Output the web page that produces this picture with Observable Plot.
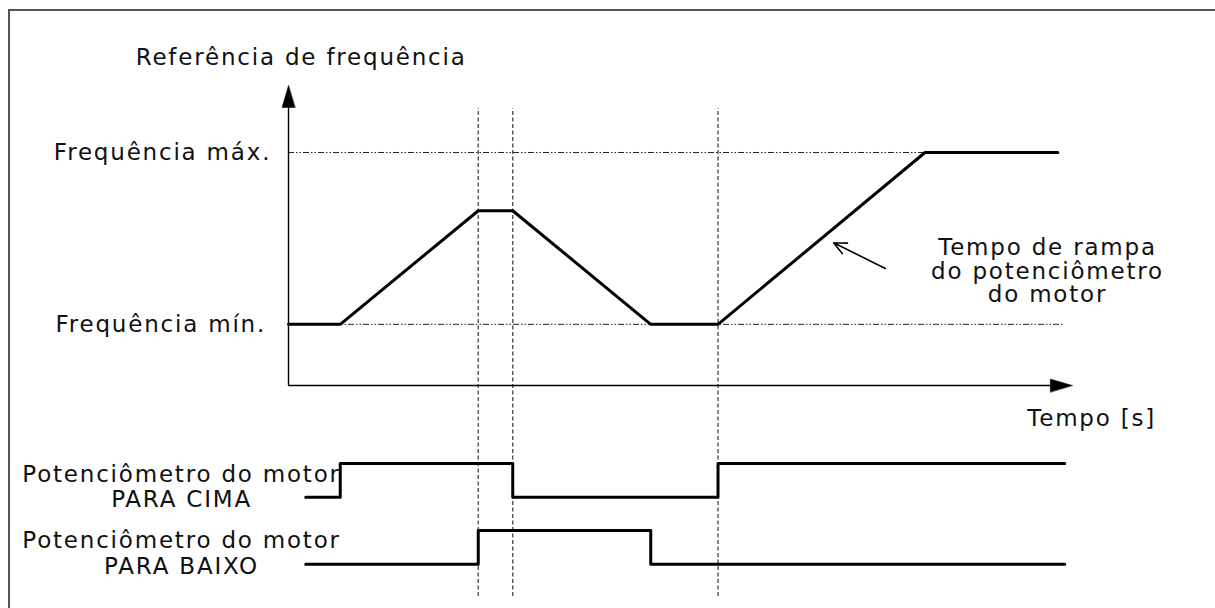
<!DOCTYPE html>
<html>
<head>
<meta charset="utf-8">
<script src="https://cdn.jsdelivr.net/npm/d3@7"></script>
<script src="https://cdn.jsdelivr.net/npm/@observablehq/plot@0.6"></script>
<style>
  html, body { margin: 0; padding: 0; background: #fff; }
  #wrap { position: relative; width: 1215px; height: 608px; overflow: hidden; }
  #frame { position: absolute; left: 8px; top: 9px; width: 1300px; height: 700px;
           border-left: 2px solid #555; border-top: 2px solid #555; box-sizing: border-box; }
  #chart { position: absolute; left: 0; top: 0; }
  svg text { font-family: "DejaVu Sans", Verdana, sans-serif; letter-spacing: 1.8px; }
</style>
</head>
<body>
<div id="wrap"><div id="frame"></div><div id="chart"></div></div>
<script>
// ---- data (time in arbitrary units, frequency in arbitrary units) ----
const freqTime  = [0, 1.5, 5.5, 6.5, 10.5, 12.45, 18.45, 22.3];
const freqValue = [1.05, 1.05, 3, 3, 1.05, 1.05, 4, 4];
const fMin = 1.05, fMax = 4;

// digital inputs (step-after)
const upTime    = [0.5, 1.5, 6.5, 12.45, 22.5];
const upLevel   = [0, 1, 0, 1, 1];
const downTime  = [0.5, 5.5, 10.5, 22.5];
const downLevel = [0, 1, 0, 0];

// event markers (dashed vertical guides)
const eventTimes = [5.5, 6.5, 12.45];

// texts
const yTitle   = "Referência de frequência";
const xTitle   = "Tempo [s]";
const maxLabel = "Frequência máx.";
const minLabel = "Frequência mín.";
const rampLabel = ["Tempo de rampa", "do potenciômetro", "do motor"];
const upLabel   = ["Potenciômetro do motor", "PARA CIMA"];
const downLabel = ["Potenciômetro do motor", "PARA BAIXO"];

// ---- layout helpers (lanes for digital signals, in y-units) ----
const laneUp   = {base: -1.92, high: 0.58, label: -1.742};
const laneDown = {base: -3.07, high: 0.58, label: -2.867};
const xAxisEnd = 22.72, yAxisEnd = 5.15;
const guideTop = 4.755, guideBottom = -3.62;

const freqData = freqTime.map((t, i) => ({t, f: freqValue[i]}));
const upData   = upTime.map((t, i) => ({t, f: laneUp.base + upLevel[i] * laneUp.high}));
const downData = downTime.map((t, i) => ({t, f: laneDown.base + downLevel[i] * laneDown.high}));

const triangle = {
  draw(ctx, l, r) {
    ctx.moveTo(0, -l);
    ctx.lineTo(-r, 0);
    ctx.lineTo(r, 0);
    ctx.closePath();
  }
};

const FS = 23;
const txt = {fontSize: FS, fill: "#111", stroke: "none", fontFamily: "DejaVu Sans"};

const plot = Plot.plot({
  width: 1215, height: 608,
  margin: 0,
  x: {domain: [-8.348, 26.87], axis: null},
  y: {domain: [-3.828, 6.609], axis: null},
  style: {background: "transparent", overflow: "visible"},
  marks: [
    // dash-dot reference lines
    Plot.ruleY([fMax], {x1: 0, x2: 18.45, stroke: "#222", strokeWidth: 1, strokeDasharray: "6,2,1.5,2,1.5,2"}),
    Plot.ruleY([fMin], {x1: 0, x2: 22.45, stroke: "#222", strokeWidth: 1, strokeDasharray: "6,2,1.5,2,1.5,2"}),
    // dashed vertical guides
    Plot.ruleX(eventTimes, {y1: guideBottom, y2: guideTop, stroke: "#444", strokeWidth: 1.3, strokeDasharray: "4,2.5"}),
    // axes
    Plot.ruleX([0], {y1: 0, y2: yAxisEnd - 0.38, stroke: "#000", strokeWidth: 1.4}),
    Plot.ruleY([0], {x1: 0, x2: xAxisEnd - 0.6, stroke: "#000", strokeWidth: 1.4}),
    Plot.vector([{t: 0, f: yAxisEnd}], {x: "t", y: "f", length: 22, rotate: 0, anchor: "end", shape: triangle, r: 6.5, fill: "#000", stroke: "#000", strokeWidth: 0.5}),
    Plot.vector([{t: xAxisEnd, f: 0}], {x: "t", y: "f", length: 22, rotate: 90, anchor: "end", shape: triangle, r: 6.5, fill: "#000", stroke: "#000", strokeWidth: 0.5}),
    // frequency reference curve
    Plot.line(freqData, {x: "t", y: "f", stroke: "#000", strokeWidth: 3, strokeLinejoin: "miter"}),
    // digital signals
    Plot.line(upData, {x: "t", y: "f", curve: "step-after", stroke: "#000", strokeWidth: 3}),
    Plot.line(downData, {x: "t", y: "f", curve: "step-after", stroke: "#000", strokeWidth: 3}),
    // annotation arrow
    Plot.arrow([{x1: 17.3, y1: 2.01, x2: 15.8, y2: 2.45}], {x1: "x1", y1: "y1", x2: "x2", y2: "y2", stroke: "#000", strokeWidth: 1.6, headLength: 13, headAngle: 50}),
    // texts
    Plot.text([yTitle], {x: -4.43, y: 5.62, text: d => d, textAnchor: "start", ...txt}),
    Plot.text([maxLabel], {x: -0.5, y: fMax, text: d => d, textAnchor: "end", ...txt}),
    Plot.text([minLabel], {x: -0.65, y: fMin, text: d => d, textAnchor: "end", ...txt}),
    Plot.text([xTitle], {x: 23.28, y: -0.567, text: d => d, textAnchor: "middle", ...txt}),
    Plot.text([rampLabel.join("\n")], {x: 22.0, y: 1.96, text: d => d, textAnchor: "middle", lineHeight: 1.02, ...txt}),
    Plot.text([upLabel.join("\n")], {x: -3.1, y: laneUp.label, text: d => d, textAnchor: "middle", lineHeight: 25 / FS, ...txt}),
    Plot.text([downLabel.join("\n")], {x: -3.1, y: laneDown.label, text: d => d, textAnchor: "middle", lineHeight: 26 / FS, ...txt})
  ]
});
document.getElementById("chart").appendChild(plot);
</script>
</body>
</html>
